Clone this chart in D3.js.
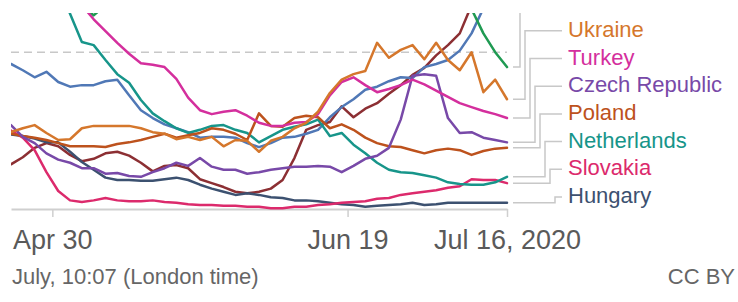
<!DOCTYPE html>
<html>
<head>
<meta charset="utf-8">
<script src="https://cdn.jsdelivr.net/npm/d3@7"></script>
<style>
  body { margin: 0; background: #fff; }
  svg { display: block; font-family: "Liberation Sans", Arial, Helvetica, sans-serif; }
</style>
</head>
<body>
<div id="chart"></div>
<script>
// readings every second day, Apr 23 - Jul 16 2020
var startDate = "2020-04-23",
  endDate = "2020-07-16",
  stepDays = 2;

var ukraine = [9.8, 10.3, 10.7, 9.7, 8.8, 8.9, 10.3, 10.6, 10.6, 10.6, 10.6, 10.3, 9.8, 9.6, 8.9, 9.2, 8.8, 9.2, 8.0, 8.8, 8.7, 7.3, 8.7, 9.2, 10.3, 11.0, 12.4, 14.8, 16.5, 17.2, 17.6, 21.2, 19.3, 20.3, 20.9, 19.1, 21.2, 19.0, 17.7, 20.0, 14.9, 16.5, 14.0];
var turkey = [null, null, null, null, null, 28.0, 26.0, 24.2, 22.7, 21.2, 19.8, 18.6, 18.4, 18.1, 16.6, 14.2, 12.6, 12.1, 12.4, 12.6, 11.9, 11.0, 10.6, 10.6, 11.0, 11.1, 12.1, 14.5, 16.2, 16.8, 15.8, 14.9, 15.3, 15.8, 16.5, 15.9, 15.1, 14.3, 13.5, 13.0, 12.5, 12.1, 11.6];
var czechRepublic = [10.7, 9.2, 8.4, 7.1, 6.3, 5.9, 5.2, 5.2, 4.5, 4.6, 4.2, 4.1, 4.7, 5.2, 5.9, 5.5, 6.5, 5.4, 5.0, 5.0, 4.5, 4.7, 5.0, 5.2, 5.4, 5.4, 5.5, 5.4, 4.7, 5.5, 6.4, 6.8, 7.8, 11.4, 17.0, 17.2, 17.0, 11.6, 9.7, 9.8, 9.1, 8.8, 8.5];
var poland = [9.6, 9.3, 9.1, 8.8, 8.4, 8.0, 8.0, 8.0, 7.9, 8.3, 8.5, 8.8, 9.2, 9.6, 9.1, 9.4, 9.7, 10.3, 10.1, 9.6, 8.8, 12.2, 10.6, 10.5, 11.6, 11.9, 11.7, 10.3, 10.8, 10.1, 9.1, 8.4, 8.0, 7.9, 7.5, 7.1, 7.5, 7.7, 7.5, 6.9, 7.4, 7.7, 7.8];
var netherlands = [null, null, null, null, 28.5, 24.9, 21.3, 20.9, 19.0, 17.2, 16.1, 13.9, 12.2, 11.2, 10.3, 9.7, 10.1, 10.6, 10.7, 10.1, 9.7, 8.5, 9.3, 10.1, 10.5, 10.8, 11.4, 9.3, 9.7, 8.2, 7.1, 5.9, 5.0, 4.7, 4.6, 4.3, 4.0, 3.4, 3.2, 3.1, 3.1, 3.4, 4.1];
var slovakia = [10.0, 9.1, 7.5, 4.7, 2.3, 1.1, 0.9, 1.1, 1.4, 1.1, 1.0, 1.0, 1.1, 0.9, 0.8, 0.6, 0.5, 0.5, 0.4, 0.4, 0.3, 0.3, 0.1, 0.1, 0.3, 0.3, 0.5, 0.6, 0.8, 0.9, 1.0, 1.3, 1.4, 1.8, 2.0, 2.2, 2.4, 2.7, 2.9, 3.8, 3.7, 3.7, 3.3];
var hungary = [9.5, 9.3, 9.0, 8.5, 8.5, 7.3, 6.0, 5.0, 4.0, 3.7, 3.7, 3.6, 3.6, 3.8, 4.0, 3.7, 3.1, 2.6, 2.2, 1.8, 2.0, 1.8, 1.5, 1.4, 1.1, 1.1, 1.0, 0.8, 0.6, 0.5, 0.3, 0.4, 0.5, 0.6, 0.8, 0.5, 0.6, 0.8, 0.8, 0.8, 0.8, 0.8, 0.8];
// three more countries whose labels sit above the visible part
var otherBlue = [18.5, 17.7, 16.8, 17.5, 16.2, 15.6, 15.8, 15.8, 16.3, 16.5, 14.5, 12.6, 11.6, 10.8, 10.3, 9.8, 9.1, 9.2, 9.2, 9.1, 8.4, 7.9, 8.4, 9.1, 9.2, 9.6, 10.1, 11.7, 13.0, 14.0, 15.2, 15.6, 16.3, 16.8, 16.7, 18.1, 18.5, 19.0, 20.2, 22.4, 25.6, 28.6, null];
var otherMaroon = [5.7, 6.6, 7.8, 8.4, 8.0, 6.9, 6.1, 6.4, 7.1, 7.3, 6.8, 5.9, 4.8, 5.5, 5.6, 5.2, 3.8, 3.3, 2.8, 2.2, 2.0, 2.2, 2.6, 3.7, 6.5, 10.1, 10.7, 11.1, 13.1, 11.7, 12.8, 13.5, 14.7, 15.8, 17.1, 18.0, 19.6, 20.9, 22.4, 26.0, 29.2, null, null];
var otherGreen = [null, null, null, null, null, null, 26.0, 24.7, 26.0, null, null, null, null, null, null, null, null, null, null, null, null, null, null, null, null, null, null, null, null, null, null, null, null, null, null, null, null, null, 27.5, 25.5, 22.4, 20.0, 18.1];

var seriesNames = ["Ukraine", "Turkey", "Czech Republic", "Poland", "Netherlands", "Slovakia", "Hungary", null, null, null];
var seriesValues = [ukraine, turkey, czechRepublic, poland, netherlands, slovakia, hungary, otherBlue, otherMaroon, otherGreen];
var seriesColors = ["#d5772c", "#d42f9d", "#7849a8", "#bd521d", "#17958a", "#dc2a6c", "#3c5170", "#5078b6", "#8c2f33", "#1f9a52"];

var tickDates = ["2020-04-30", "2020-06-19", "2020-07-16"];
var tickLabels = ["Apr 30", "Jun 19", "Jul 16, 2020"];
var thresholdValue = 20;
var footerLeft = "July, 10:07 (London time)",
  footerRight = "CC BY";

var width = 738,
  height = 302;
var plot = { left: 11, right: 507, top: 13, bottom: 209 };

var parse = d3.utcParse("%Y-%m-%d");
var dates = d3.utcDay.range(parse(startDate), d3.utcDay.offset(parse(endDate), 1), stepDays);

var series = seriesNames.map(function (name, i) {
  var points = dates.map(function (d, j) {
    return { date: d, value: seriesValues[i][j] };
  });
  var defined = points.filter((p) => p.value != null);
  return { name: name, color: seriesColors[i], points: points, last: defined[defined.length - 1] };
});

var x = d3.scaleUtc().domain([dates[0], dates[dates.length - 1]]).range([plot.left, plot.right]);
var y = d3.scaleLinear().domain([0, 25]).range([plot.bottom, plot.top]);

var svg = d3
  .select("#chart")
  .append("svg")
  .attr("width", width)
  .attr("height", height);

var defs = svg.append("defs");
defs.append("clipPath").attr("id", "plotClip")
  .append("rect")
  .attr("x", plot.left)
  .attr("y", plot.top)
  .attr("width", plot.right - plot.left + 3)
  .attr("height", plot.bottom - plot.top + 4);
defs.append("clipPath").attr("id", "labelClip")
  .append("rect")
  .attr("x", plot.right)
  .attr("y", plot.top)
  .attr("width", width - plot.right)
  .attr("height", plot.bottom - plot.top);

// threshold line
svg.append("line")
  .attr("x1", plot.left)
  .attr("x2", plot.right)
  .attr("y1", y(thresholdValue))
  .attr("y2", y(thresholdValue))
  .attr("stroke", "#c8c8c8")
  .attr("stroke-width", 1.5)
  .attr("stroke-dasharray", "8,5");

// x axis
var axis = svg.append("g")
  .attr("transform", "translate(0," + plot.bottom + ")")
  .call(
    d3.axisBottom(x)
      .tickValues(tickDates.map(parse))
      .tickSize(8)
      .tickSizeOuter(0)
      .tickFormat((d, i) => tickLabels[i])
  );
axis.select(".domain").attr("stroke", "#cfcfcf").attr("stroke-width", 2);
axis.selectAll(".tick line").attr("stroke", "#cfcfcf").attr("stroke-width", 1.5);
axis.selectAll(".tick text")
  .attr("dy", null)
  .attr("y", 40)
  .attr("fill", "#5a5a5a")
  .style("font-size", "27px")
  .style("font-family", "'Liberation Sans', Arial, sans-serif");

var line = d3
  .line()
  .defined((d) => d.value != null)
  .x((d) => x(d.date))
  .y((d) => y(d.value));

var drawOrder = [8, 7, 9, 6, 5, 4, 3, 2, 1, 0];
svg.append("g")
  .attr("clip-path", "url(#plotClip)")
  .selectAll("path")
  .data(drawOrder.map((i) => series[i]))
  .join("path")
  .attr("d", (d) => line(d.points))
  .attr("fill", "none")
  .attr("stroke", (d) => d.color)
  .attr("stroke-width", 2.5)
  .attr("stroke-linejoin", "round")
  .attr("stroke-linecap", "round");

// labels stacked from the bottom, with elbow connectors to the line ends
var labelBottom = 203,
  labelStep = 27.7,
  elbowRight = 555,
  elbowStep = 5;

var ordered = series.slice().sort((a, b) => b.last.value - a.last.value);
var n = ordered.length;

var conn = svg.append("g").attr("clip-path", "url(#labelClip)");
ordered.forEach(function (s, k) {
  var slot = n - 1 - k;
  var labelY = labelBottom - slot * labelStep;
  var elbowX = elbowRight - slot * elbowStep;
  var endY = y(s.last.value);
  conn.append("path")
    .attr("d", "M513," + endY + "H" + elbowX + "V" + (labelY - 6) + "H562")
    .attr("fill", "none")
    .attr("stroke", "#c8c8c8")
    .attr("stroke-width", 1.5);
  if (s.name) {
    svg.append("text")
      .attr("x", 568)
      .attr("y", labelY)
      .attr("fill", s.color)
      .style("font-size", "22px")
      .text(s.name);
  }
});

// footer
svg.append("text")
  .attr("x", 12)
  .attr("y", 284)
  .attr("fill", "#666")
  .style("font-size", "22px")
  .text(footerLeft);
svg.append("text")
  .attr("x", 735)
  .attr("y", 284)
  .attr("text-anchor", "end")
  .attr("fill", "#666")
  .style("font-size", "22px")
  .text(footerRight);
</script>
</body>
</html>
